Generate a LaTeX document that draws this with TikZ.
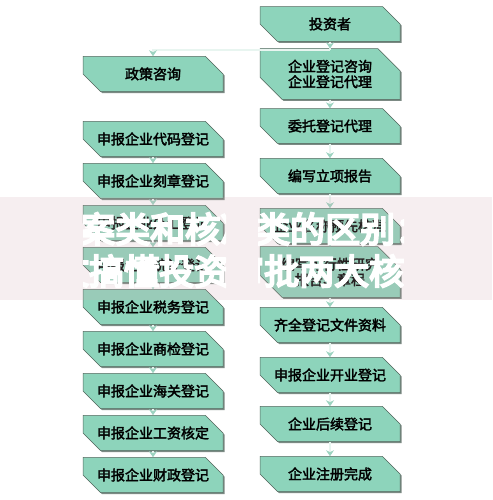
\documentclass[tikz,border=0pt]{standalone}
\usepackage{fontspec}
\newfontfamily\cjk{Noto Sans CJK SC}[FakeBold=2.4]
\newfontfamily\cjkb{Noto Sans CJK SC}[FakeBold=6]
\usetikzlibrary{shapes.misc,shadows,arrows.meta}
\definecolor{boxg}{HTML}{8DD4BB}
\definecolor{boxline}{HTML}{55685F}
\definecolor{shadowc}{HTML}{7C8A84}
\definecolor{connc}{HTML}{9CD3C0}
\definecolor{connin}{HTML}{E8F5F0}
\definecolor{bandc}{HTML}{D2A6AE}
\begin{document}
\begin{tikzpicture}[x=1pt,y=-1pt,
  flow/.style={chamfered rectangle,
    chamfered rectangle corners={north east,south west},
    chamfered rectangle xsep=11pt, chamfered rectangle ysep=11pt,
    minimum width=140pt, minimum height=32pt, inner sep=0pt,
    fill=boxg, draw=boxline, line width=0.5pt, align=center,
    font=\cjk\fontsize{14}{15.5}\selectfont,
    drop shadow={shadow xshift=1.5pt, shadow yshift=-1.5pt, fill=shadowc, opacity=1}},
  conn/.style={draw=connc, line width=0.8pt, double=connin, double distance=1.1pt,
    -{Stealth[length=6pt,width=8pt,fill=connc]}},
  connplain/.style={draw=connc, line width=0.8pt, double=connin, double distance=1.1pt},
  wm/.style={anchor=west, text=white, inner sep=0pt,
    font=\cjkb\fontsize{35}{35}\selectfont}]
\useasboundingbox (0,0) rectangle (492,500);
\fill[white] (0,0) rectangle (492,500);
% right column
\node[flow] (r1) at (330,24) {投资者};
\node[flow] (r2) at (330,74) {企业登记咨询\\企业登记代理};
\node[flow] (r3) at (330,126) {委托登记代理};
\node[flow] (r4) at (330,176) {编写立项报告};
\node[flow] (r5) at (330,226) {企业名称预先核准};
\node[flow, minimum height=35pt] (r6) at (330,272) {编写可行性研究\\报告、章程};
\node[flow] (r7) at (330,325) {齐全登记文件资料};
\node[flow] (r8) at (330,375) {申报企业开业登记};
\node[flow] (r9) at (330,424) {企业后续登记};
\node[flow] (r10) at (330,474) {企业注册完成};
% left column
\node[flow] (l0) at (153,74) {政策咨询};
\node[flow] (l1) at (153,139) {申报企业代码登记};
\node[flow] (l2) at (153,181) {申报企业刻章登记};
\node[flow] (l3) at (153,223) {申报企业外汇登记};
\node[flow] (l4) at (153,265) {申报企业统计登记};
\node[flow] (l5) at (153,307) {申报企业税务登记};
\node[flow] (l6) at (153,349) {申报企业商检登记};
\node[flow] (l7) at (153,391) {申报企业海关登记};
\node[flow] (l8) at (153,433) {申报企业工资核定};
\node[flow] (l9) at (153,475) {申报企业财政登记};
% connectors
\coordinate (br) at (330,50);
\draw[connplain] (br) -- (r1.south);
\draw[conn] (br) -| (l0.north);
\foreach \a/\b in {r1/r2,r2/r3,r3/r4,r4/r5,r5/r6,r6/r7,r7/r8,r8/r9,r9/r10,
  l1/l2,l2/l3,l3/l4,l4/l5,l5/l6,l6/l7,l7/l8,l8/l9}
  \draw[conn] (\a.south) -- (\b.north);
% overlay band
\fill[bandc, fill opacity=0.18] (0,197) rectangle (492,300);
\begin{scope}
\clip (83,197) rectangle (226,300) (258,197) rectangle (404,300);
\node[wm] (w1) at (45,229) {备案类和核准类的区别：一};
\node[wm] (w2) at (54,271) {文搞懂投资审批两大核心};
\end{scope}
\end{tikzpicture}
\end{document}
